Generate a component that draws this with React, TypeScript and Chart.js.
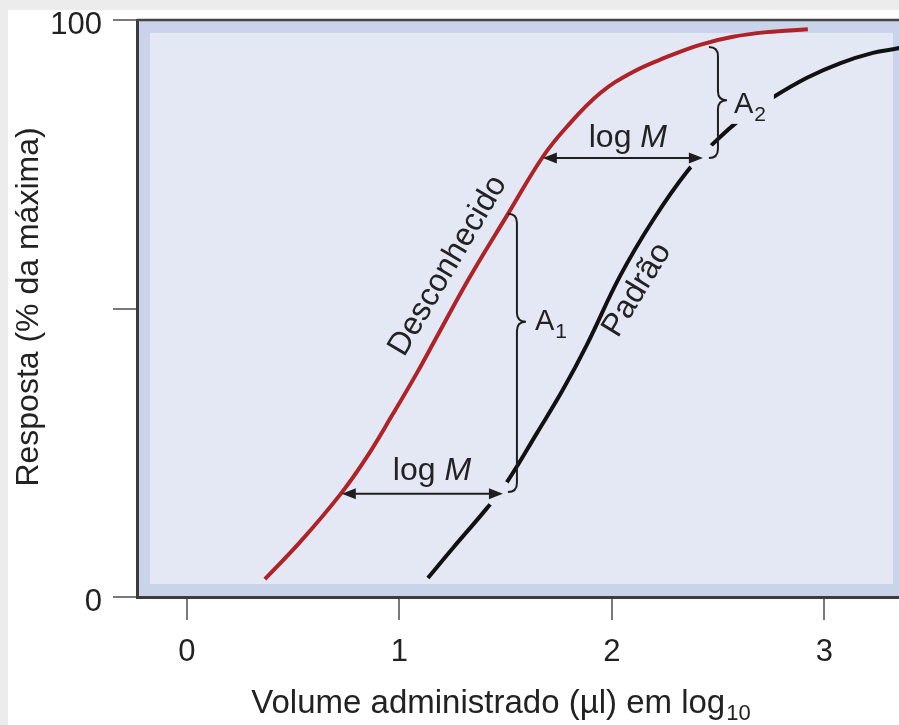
import React, { useEffect, useRef } from 'react';
import { Chart, registerables } from 'chart.js';

Chart.register(...registerables);

// ---- data ----
const xTicks = [0, 1, 2, 3];
const yTicks = [0, 50, 100];
const yTickLabels = ['0', '', '100'];
const X_MIN = -0.235;
const X_MAX = 3.384;

// "Desconhecido" (unknown) curve
const redX = [0.367, 0.532, 0.72, 0.847, 0.969, 1.082, 1.176, 1.332, 1.511, 1.675, 1.788, 1.944, 2.099, 2.259, 2.414, 2.569, 2.729, 2.922];
const redY = [3.1, 9.5, 17.7, 24.3, 31.7, 38.8, 45.1, 55.5, 66.4, 76.3, 81.5, 87.3, 91.0, 93.6, 95.7, 97.1, 97.9, 98.4];

// "Padrão" (standard) curve
const blackX = [1.134, 1.252, 1.412, 1.506, 1.647, 1.769, 1.882, 2.038, 2.193, 2.353, 2.48, 2.612, 2.753, 2.918, 3.073, 3.228, 3.346, 3.384];
const blackY = [3.3, 8.5, 15.4, 19.9, 28.4, 35.9, 43.7, 55.6, 65.3, 73.7, 78.7, 83.0, 86.5, 90.0, 92.5, 94.3, 95.1, 95.5];

// annotations (data units)
const arrowLowX = [0.729, 1.487];
const arrowLowY = 17.9;
const arrowHighX = [1.675, 2.428];
const arrowHighY = 76.1;
const braceA1 = [1.553, 66.4, 47.7, 18.2]; // x, top, tip, bottom
const braceA2 = [2.499, 95.3, 86.1, 76.1];
const logMLow = [1.153, 20.3];
const logMHigh = [2.075, 78.0];
const labelA1 = [1.638, 46.3];
const labelA2 = [2.574, 83.9];
const labelUnknown = [1.228, 57.4];
const labelStandard = [2.118, 53.2];

const FONT = '"Liberation Sans", Arial, Helvetica, sans-serif';
const RED = '#ad2328';
const BLACK = '#111111';
const FRAME = '#c9d3ea';
const INNER = '#e4e8f4';
const TEXT = '#222222';
const INK = '#1e1e1e';

function arrowHead(ctx: CanvasRenderingContext2D, tx: number, ty: number, dir: number) {
  const L = 14, W = 5.5;
  ctx.beginPath();
  ctx.moveTo(tx, ty);
  ctx.lineTo(tx - dir * L, ty - W);
  ctx.lineTo(tx - dir * L, ty + W);
  ctx.closePath();
  ctx.fill();
}

function brace(ctx: CanvasRenderingContext2D, x: number, yTop: number, yMid: number, yBot: number, r: number) {
  ctx.beginPath();
  ctx.moveTo(x - r, yTop);
  ctx.quadraticCurveTo(x, yTop, x, yTop + r);
  ctx.lineTo(x, yMid - r);
  ctx.quadraticCurveTo(x, yMid, x + r, yMid);
  ctx.quadraticCurveTo(x, yMid, x, yMid + r);
  ctx.lineTo(x, yBot - r);
  ctx.quadraticCurveTo(x, yBot, x - r, yBot);
  ctx.stroke();
}

function logM(ctx: CanvasRenderingContext2D, cx: number, by: number) {
  ctx.font = `32px ${FONT}`;
  const a = 'log ';
  const wa = ctx.measureText(a).width;
  ctx.font = `italic 32px ${FONT}`;
  const wb = ctx.measureText('M').width;
  const x0 = cx - (wa + wb) / 2;
  ctx.textAlign = 'left';
  ctx.textBaseline = 'alphabetic';
  ctx.font = `32px ${FONT}`;
  ctx.fillText(a, x0, by);
  ctx.font = `italic 32px ${FONT}`;
  ctx.fillText('M', x0 + wa, by);
}

function subLabel(ctx: CanvasRenderingContext2D, x: number, by: number, main: string, sub: string, size: number, subSize: number, drop: number) {
  ctx.textAlign = 'left';
  ctx.textBaseline = 'alphabetic';
  ctx.font = `${size}px ${FONT}`;
  ctx.fillText(main, x, by);
  const w = ctx.measureText(main).width;
  ctx.font = `${subSize}px ${FONT}`;
  ctx.fillText(sub, x + w + 1, by + drop);
  return w + 1 + ctx.measureText(sub).width;
}

const annotPlugin = {
  id: 'annot',
  beforeDraw(chart: any) {
    const { ctx, chartArea: a } = chart;
    ctx.save();
    ctx.fillStyle = FRAME;
    ctx.fillRect(a.left, a.top, a.right - a.left, a.bottom - a.top);
    ctx.fillStyle = INNER;
    ctx.fillRect(a.left + 13, a.top + 13, a.right - a.left - 26, a.bottom - a.top - 26);
    ctx.restore();
  },
  afterDatasetsDraw(chart: any) {
    const { ctx } = chart;
    const xs = chart.scales.x, ys = chart.scales.y;
    const px = (v: number) => xs.getPixelForValue(v);
    const py = (v: number) => ys.getPixelForValue(v);
    ctx.save();

    // halos where annotations cross the standard curve
    ctx.fillStyle = INNER;
    ctx.beginPath();
    ctx.arc(px(arrowLowX[1]) - 4, py(arrowLowY), 14, 0, Math.PI * 2);
    ctx.fill();
    ctx.beginPath();
    ctx.arc(px(arrowHighX[1]) - 1, py(arrowHighY) - 1, 15, 0, Math.PI * 2);
    ctx.fill();
    // halo behind A2 label
    ctx.fillRect(px(labelA2[0]) - 2, py(labelA2[1]) - 24, 42, 35);

    ctx.strokeStyle = INK;
    ctx.fillStyle = INK;
    ctx.lineWidth = 2;

    // log M arrows
    const drawArrow = (xsr: number[], yv: number) => {
      const x1 = px(xsr[0]), x2 = px(xsr[1]), y = py(yv);
      ctx.beginPath();
      ctx.moveTo(x1 + 10, y);
      ctx.lineTo(x2 - 10, y);
      ctx.stroke();
      arrowHead(ctx, x1, y, -1);
      arrowHead(ctx, x2, y, 1);
    };
    drawArrow(arrowLowX, arrowLowY);
    drawArrow(arrowHighX, arrowHighY);

    // braces
    brace(ctx, px(braceA1[0]), py(braceA1[1]), py(braceA1[2]), py(braceA1[3]), 9);
    brace(ctx, px(braceA2[0]), py(braceA2[1]), py(braceA2[2]), py(braceA2[3]), 9);

    // labels
    ctx.fillStyle = TEXT;
    logM(ctx, px(logMLow[0]), py(logMLow[1]));
    logM(ctx, px(logMHigh[0]), py(logMHigh[1]));
    subLabel(ctx, px(labelA1[0]), py(labelA1[1]), 'A', '1', 29, 21, 8);
    subLabel(ctx, px(labelA2[0]), py(labelA2[1]), 'A', '2', 29, 21, 8);

    const rotated = (txt: string, pos: number[], deg: number) => {
      ctx.save();
      ctx.translate(px(pos[0]), py(pos[1]));
      ctx.rotate((deg * Math.PI) / 180);
      ctx.font = `32px ${FONT}`;
      ctx.textAlign = 'center';
      ctx.textBaseline = 'middle';
      ctx.fillText(txt, 0, 0);
      ctx.restore();
    };
    rotated('Desconhecido', labelUnknown, -59.5);
    rotated('Padrão', labelStandard, -58.6);
    ctx.restore();
  },
  afterDraw(chart: any) {
    const { ctx, chartArea: a } = chart;
    ctx.save();
    // top border of the plot frame
    ctx.strokeStyle = '#444';
    ctx.lineWidth = 2.5;
    ctx.beginPath();
    ctx.moveTo(a.left, a.top);
    ctx.lineTo(a.right, a.top);
    ctx.stroke();

    ctx.fillStyle = TEXT;
    // x-axis title with subscript
    const main = 'Volume administrado (µl) em log';
    const sub = '10';
    ctx.font = `33px ${FONT}`;
    const wm = ctx.measureText(main).width;
    ctx.font = `22px ${FONT}`;
    const ws = ctx.measureText(sub).width;
    const cx = 493;
    subLabel(ctx, cx - (wm + 1 + ws) / 2, 703, main, sub, 33, 22, 7);

    // y-axis title
    ctx.translate(30, 297);
    ctx.rotate(-Math.PI / 2);
    ctx.font = `32px ${FONT}`;
    ctx.textAlign = 'center';
    ctx.textBaseline = 'alphabetic';
    ctx.fillText('Resposta (% da máxima)', 0, 0);
    ctx.restore();
  },
};

export default function App() {
  const ref = useRef<HTMLCanvasElement>(null);
  useEffect(() => {
    document.body.style.background = '#ececec';
    document.body.style.overflow = 'hidden';
    document.documentElement.style.overflow = 'hidden';
    const chart = new Chart(ref.current as HTMLCanvasElement, {
      type: 'scatter',
      data: {
        datasets: [
          {
            data: redX.map((x, i) => ({ x, y: redY[i] })),
            showLine: true,
            borderColor: RED,
            borderWidth: 4,
            pointRadius: 0,
            tension: 0.4,
          } as any,
          {
            data: blackX.map((x, i) => ({ x, y: blackY[i] })),
            showLine: true,
            borderColor: BLACK,
            borderWidth: 4,
            pointRadius: 0,
            tension: 0.4,
          } as any,
        ],
      },
      options: {
        responsive: false,
        animation: false,
        devicePixelRatio: 1,
        layout: { padding: { top: 10, left: 0, right: 0, bottom: 0 } },
        plugins: { legend: { display: false }, tooltip: { enabled: false } },
        scales: {
          x: {
            type: 'linear',
            min: X_MIN,
            max: X_MAX,
            afterBuildTicks: (s: any) => {
              s.ticks = xTicks.map((v) => ({ value: v }));
            },
            afterFit: (s: any) => {
              s.height = 128;
              s.paddingLeft = 0;
              s.paddingRight = 0;
            },
            grid: { drawOnChartArea: false, drawTicks: true, tickLength: 23, tickColor: '#7a7a7a', lineWidth: 2 },
            border: { color: '#3c3c3c', width: 3 },
            ticks: { font: { size: 31, family: FONT }, color: TEXT, padding: 14, maxRotation: 0, autoSkip: false },
          },
          y: {
            type: 'linear',
            min: 0,
            max: 100,
            afterBuildTicks: (s: any) => {
              s.ticks = yTicks.map((v) => ({ value: v }));
            },
            afterFit: (s: any) => {
              s.width = 129;
              s.paddingTop = 0;
              s.paddingBottom = 0;
            },
            grid: { drawOnChartArea: false, drawTicks: true, tickLength: 24, tickColor: '#7a7a7a', lineWidth: 2 },
            border: { color: '#3c3c3c', width: 3 },
            ticks: {
              font: { size: 31, family: FONT },
              color: TEXT,
              padding: 11,
              labelOffset: 5,
              autoSkip: false,
              callback: (_v: any, i: number) => yTickLabels[i],
            },
          },
        },
      } as any,
      plugins: [annotPlugin],
    });
    return () => chart.destroy();
  }, []);
  return (
    <div style={{ position: 'absolute', left: 8, top: 10, width: 898, height: 715, background: '#ffffff', overflow: 'hidden' }}>
      <canvas ref={ref} width={898} height={715} style={{ display: 'block' }} />
    </div>
  );
}
